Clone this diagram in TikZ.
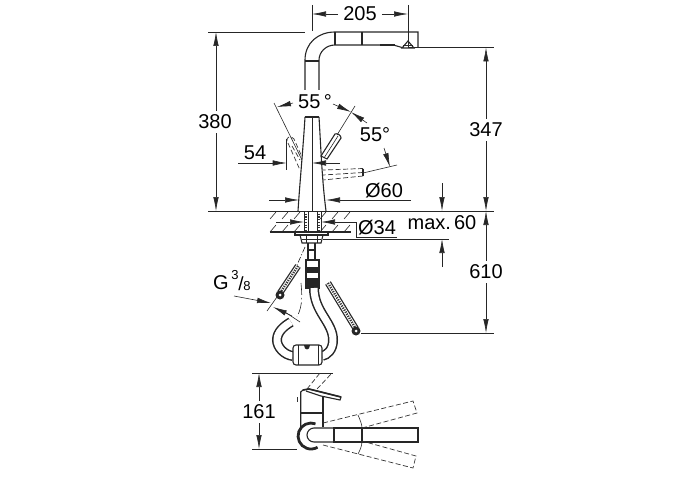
\documentclass[tikz,border=0pt]{standalone}
\usepackage{fontspec}
\setmainfont{Liberation Sans}
\usetikzlibrary{arrows.meta,calc}

\begin{document}
\begin{tikzpicture}[x=1pt,y=-1pt]
            \tikzset{label/.style = {inner sep=0pt,font=\fontsize{20}{22}\selectfont}}
            \tikzset{part/.style = {line width=1.1pt,black!85}}
            \tikzset{dim/.style = {line width=0.6pt,black!85}}
            \tikzset{dimarrow/.style = {dim,-{Latex[length=14pt,width=5.5pt]}}}
            \tikzset{ghost/.style = {line width=0.7pt,black!80,dash pattern=on 5pt off 2.5pt}}
            \tikzset{tube/.style = {line width=10pt,black!85,line cap=butt}}
            \tikzset{tube core/.style = {line width=7pt,white,line cap=butt}}
            \useasboundingbox (0,0) rectangle (700,500);

            % labels
            \node[label] (w205) at (360,14) {205};
            \node[label] (h380) at (215,122) {380};
            \node[label] (h347) at (486,130) {347};
            \node[label] (h610) at (486,272) {610};
            \node[label] (a55) at (315,102) {55\,°};
            \node[label] (b55) at (375,135) {55°};
            \node[label] (d54) at (255,153) {54};
            \node[label] (d60) at (384,191) {Ø60};
            \node[label] (d34) at (377,228) {Ø34};
            \node[label] (max60) at (442,223) {max.\hspace{0.15em}60};
            \node[label] (h161) at (259,412) {161};
            \node[label] (g) at (221,283) {G};
            \node[inner sep=0pt,font=\fontsize{13}{14}\selectfont] (g3) at (235,275) {3};
            \node[inner sep=0pt,font=\fontsize{19}{21}\selectfont] (gs) at (241,284) {/};
            \node[inner sep=0pt,font=\fontsize{13}{14}\selectfont] (g8) at (247,286) {8};

            % spout
            \draw[part] (305,90) -- (305,60) .. controls (305,43) and (318,32) .. (335,32) -- (418,32) -- (418,48);
            \draw[part] (319,90) -- (319,60) .. controls (319,52) and (326,45) .. (335,45) -- (385,45);
            \draw[line width=2pt,black!85] (380,45.5) -- (395,45.5);
            \draw[part] (395,45.5) -- (402,47.5);
            \draw[part] (305,61) -- (319,61);
            \foreach \x in {335,362}
            {
              \draw[part] (\x,32) -- (\x,45);
            }
            \draw[part] (402,48) -- (408,41) -- (414,48) -- cycle;
            \draw[dim] (403,45) -- (413,45);

            % body
            \draw[line width=1.8pt,black!85] (305,117) -- (319,117);
            \draw[part] (305,117) .. controls (303,150) and (300,180) .. (298,211);
            \draw[part] (319,117) .. controls (321,150) and (322,180) .. (326,211);
            \draw[dim] (312,117) -- (312,211);

            % levers
            \draw[part] (335,134) .. controls (337,133) and (341,135) .. (341,138) -- (327,159) -- (321,156) -- cycle;
            \draw[dim] (338,136) -- (324,158);
            \draw[ghost] (287,141) .. controls (286,137) and (291,135) .. (294,139) -- (302,157);
            \draw[ghost] (288,143) -- (300,170);
            \draw[ghost] (292,146) -- (300,160);
            \draw[ghost] (363,168.5) -- (323,170);
            \draw[ghost] (363,172.5) -- (323,175);
            \draw[ghost] (363,176) -- (323,180);
            \draw[part] (363,168.5) -- (363,176);

            % counter
            \draw[part] (270,232) -- (351,232);
            \draw[line width=0.8pt,black!85] (208,211.5) -- (494,211.5);
            \foreach \x in {276,288,300,326,338,350}
            {
              \draw[dim] (\x-6,219) -- (\x,212);
              \draw[dim] (\x-6,232) -- (\x,225);
            }
            \foreach \x in {304,308,317,321}
            {
              \draw[dim] (\x,211) -- (\x,232);
            }
            \foreach \x in {306,319}
            {
              \draw[line width=2pt,black!80,dash pattern=on 1.2pt off 1.5pt] (\x,211) -- (\x,232);
            }
            \draw[part] (295,232) -- (328,232) -- (328,235) -- (295,235) -- cycle;
            \draw[part] (300,235) -- (323,235) -- (321,243) -- (302,243) -- cycle;
            \draw[dim] (302,239) -- (321,239);
            \foreach \x in {306,317}
            {
              \draw[dim] (\x,235) -- (\x,243);
            }

            % connector and hose
            \draw[part] (308,243) -- (308,259) (315,243) -- (315,259);
            \draw[part] (308,250) -- (315,250);
            \draw[part] (306,260) rectangle (319,288);
            \fill[black!85] (306,267) rectangle (319,273);
            \fill[black!85] (306,278) rectangle (319,288);
            \draw[tube] (314,288) .. controls (314,312) and (333,322) .. (333,340) .. controls (333,350) and (327,355) .. (322,356);
            \draw[tube core] (314,288) .. controls (314,312) and (333,322) .. (333,340) .. controls (333,350) and (327,355) .. (322,356);
            \draw[tube] (293,356) .. controls (284,355) and (277,347) .. (277,340) .. controls (277,332) and (284,326) .. (291,322);
            \draw[tube core] (293,356) .. controls (284,355) and (277,347) .. (277,340) .. controls (277,332) and (284,326) .. (291,322);
            \draw[part,fill=white,rounded corners=3pt] (293,345) rectangle (322,365);
            \foreach \x in {298,318}
            {
              \draw[dim] (\x,345) -- (\x,365);
            }
            \fill[black!85] (304,345) .. controls (304,351) and (310,351) .. (310,345) -- cycle;

            % flexible hoses
            \foreach \a/\b/\c/\d in {298/266/280/293, 328/283/356/329}
            {
              \draw[line width=6.5pt,black!85] (\a,\b) -- (\c,\d);
              \draw[line width=4pt,white] (\a,\b) -- (\c,\d);
              \draw[line width=2.4pt,black!80,dash pattern=on 1.2pt off 1.2pt] (\a,\b) -- (\c,\d);
            }
            \fill[black!85] (280,295) circle (4.5pt);
            \fill[white] (280,295) circle (1.5pt);
            \fill[black!85] (356,331) circle (4.5pt);
            \fill[white] (356,331) circle (1.5pt);
            \draw[dim,dash pattern=on 6pt off 2pt on 1pt off 2pt] (305,247) -- (297,265);
            \draw[dim,dash pattern=on 12pt off 3pt on 1.5pt off 3pt] (301,283) .. controls (302,295) and (303,305) .. (297,317);

            % dimension 205
            \draw[dim] (312,5) -- (312,31);
            \draw[dim] (408,5) -- (408,47);
            \draw[dimarrow] (w205.west) ++(-5,0) -- (312,14);
            \draw[dimarrow] (w205.east) ++(5,0) -- (408,14);

            % dimensions 380, 347, 610
            \draw[dim] (208,32) -- (305,32);
            \draw[dim] (408,47.5) -- (494,47.5);
            \draw[dim] (361,333) -- (494,333);
            \draw[dimarrow] (h380.north) ++(1,-4) -- (216,32);
            \draw[dimarrow] (h380.south) ++(1,4) -- (216,211);
            \draw[dimarrow] (h347.north) ++(0,-4) -- (486,47.5);
            \draw[dimarrow] (h347.south) ++(0,4) -- (486,211);
            \draw[dimarrow] (h610.north) ++(0,-4) -- (486,211);
            \draw[dimarrow] (h610.south) ++(0,4) -- (486,333);

            % dimensions 55
            \draw[dim] (274,103) -- (302,160);
            \draw[dim] (355,106) -- (337,135);
            \draw[dimarrow] (293,103) -- (277,107);
            \draw[dimarrow] (333,104) -- (351,112);
            \draw[dimarrow] (367,123) -- (351,112);
            \draw[dim] (397,165) -- (363,173);
            \draw[dimarrow] (384,148) -- (390,167);

            % dimension 54
            \draw[dim] (286.7,139) -- (286.7,170);
            \draw[dimarrow] (238,163) -- (286.7,163);
            \draw[dimarrow] (340,163) -- (312,163);

            % dimension 60 and 34
            \draw[dimarrow] (269,200) -- (299,200);
            \draw[dimarrow] (411,200) -- (326,200);
            \draw[dimarrow] (276,222) -- (304,222);
            \draw[dimarrow] (356.7,222) -- (321,222);
            \draw[dim] (397,237) -- (356.7,237) -- (356.7,222);
            \draw[dim] (323,239) -- (449,239);
            \draw[dimarrow] (442,183) -- (442,211);
            \draw[dimarrow] (442,267) -- (442,239);

            % dimension G
            \draw[dim] (277,297) -- (267,311);
            \draw[dim] (285,312) -- (300,322);
            \draw[dimarrow] (234,296) -- (271,303);
            \draw[dimarrow] (292,316) -- (273,307);

            % top view, body
            \draw[dim] (252,373) -- (333,373);
            \draw[dim] (252,449) -- (297,449);
            \draw[dimarrow] (h161.north) ++(0,-4) -- (259,373);
            \draw[dimarrow] (h161.south) ++(0,4) -- (259,449);
            \draw[part] (300.7,427) -- (300.7,392) -- (303,390) -- (309,389) -- (341,397) -- (340,400) -- (321,396) -- (306,391);
            \draw[line width=1.6pt,black!85] (303,390) -- (309,389) -- (341,397);
            \draw[part] (323,396.5) -- (323,427);
            \draw[part] (300.7,413) -- (323,413);
            \draw[ghost,line width=0.5pt] (297,397) -- (297,403);
            \draw[ghost] (307,389) -- (320,373);
            \draw[ghost] (317,389) -- (332,373);

            % top view, spout
            \draw[line width=2.8pt,black!85] (315.5,423.8) arc (70:300:13pt);
            \draw[part] (334,428) -- (314,428) arc (90:270:7pt) -- (334,442);
            \draw[part] (334,428) rectangle (362,442);
            \draw[part] (362,428) -- (418,428) -- (418,442) -- (362,442);
            \draw[ghost] (323,423) -- (413,401) -- (417,413) -- (362,428);
            \draw[ghost] (323,445) -- (413,468) -- (416,456) -- (362,441);
            \draw[dim] (358,415) .. controls (360,420) and (362,424) .. (362,428);
            \draw[dim] (362,441) .. controls (362,446) and (360,450) .. (358,454);
          \end{tikzpicture}
\end{document}
